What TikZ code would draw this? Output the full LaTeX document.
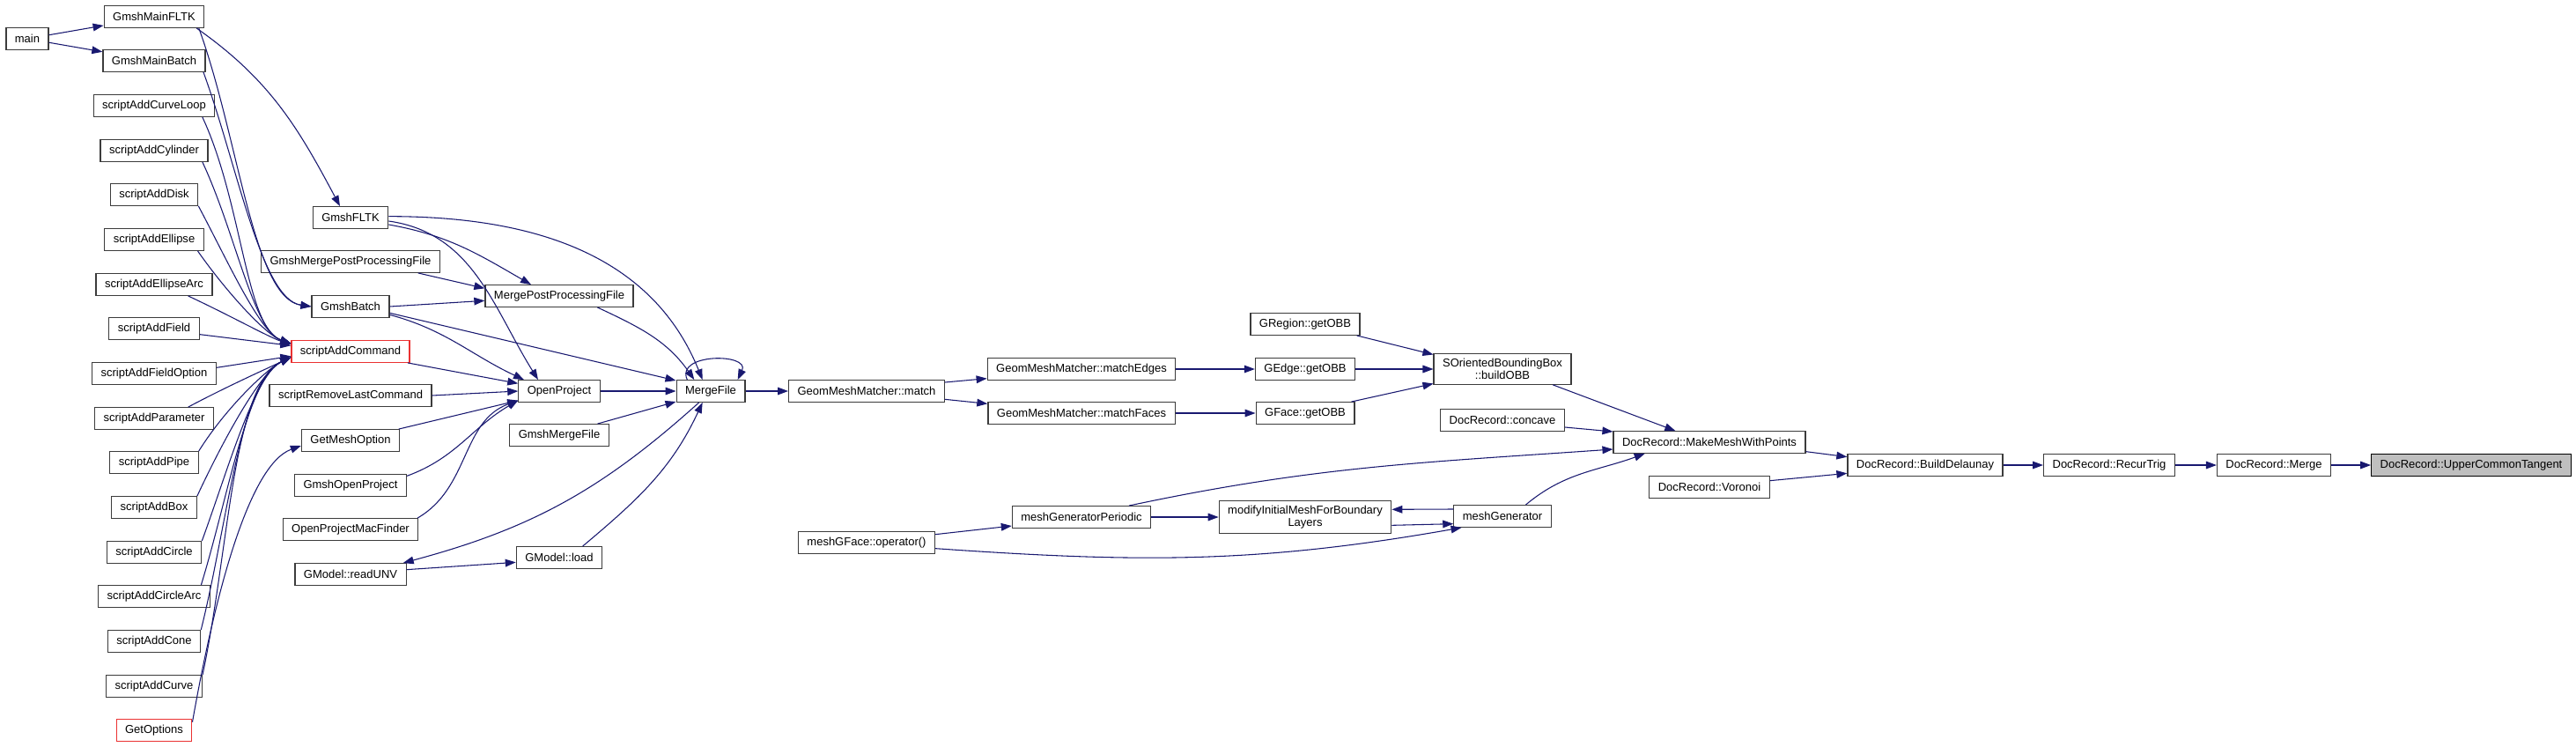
\documentclass[tikz,border=0pt]{standalone}
\usepackage{fontspec}
\setmainfont{Liberation Sans}
\usetikzlibrary{arrows.meta,positioning,calc}
\definecolor{edgeblue}{RGB}{25,25,112}
\definecolor{boxline}{RGB}{60,60,60}
\definecolor{truncred}{RGB}{235,50,50}
\definecolor{rootgray}{RGB}{191,191,191}
\tikzset{
	flow/.style={-{Triangle[length=9pt,width=6.5pt]},line width=0.8pt,draw=edgeblue},
	func/.style={draw=boxline,line width=0.9pt,fill=white,align=center,
		minimum height=18.5pt,inner xsep=7.5pt,inner ysep=4pt,text=black},
	trunc/.style={func,draw=truncred},
	root/.style={func,draw=black,fill=rootgray},
	bundledown/.style={out=-65,in=162,in looseness=0.5},
	bundleup/.style={out=72,in=205,in looseness=0.5},
}

\begin{document}
\begin{tikzpicture}[x=75pt,y=75pt,font=\fontsize{9.75}{10.7}\selectfont]
		\useasboundingbox (0,0) rectangle (29.25,-8.48);
		
		\node[func] (main) at (0.31,-0.44) {main};
		
		\node[func] (mainfltk) at (1.75,-0.19) {GmshMainFLTK};
		\node[func] (mainbatch) at (1.75,-0.69) {GmshMainBatch};
		\node[func] (curveloop) at (1.75,-1.20) {scriptAddCurveLoop};
		\node[func] (cylinder) at (1.75,-1.71) {scriptAddCylinder};
		\node[func] (disk) at (1.75,-2.21) {scriptAddDisk};
		\node[func] (ellipse) at (1.75,-2.72) {scriptAddEllipse};
		\node[func] (ellipsearc) at (1.75,-3.23) {scriptAddEllipseArc};
		\node[func] (field) at (1.75,-3.73) {scriptAddField};
		\node[func] (fieldoption) at (1.75,-4.24) {scriptAddFieldOption};
		\node[func] (parameter) at (1.75,-4.75) {scriptAddParameter};
		\node[func] (pipe) at (1.75,-5.25) {scriptAddPipe};
		\node[func] (addbox) at (1.75,-5.76) {scriptAddBox};
		\node[func] (addcircle) at (1.75,-6.27) {scriptAddCircle};
		\node[func] (circlearc) at (1.75,-6.77) {scriptAddCircleArc};
		\node[func] (cone) at (1.75,-7.28) {scriptAddCone};
		\node[func] (addcurve) at (1.75,-7.79) {scriptAddCurve};
		\node[trunc] (getoptions) at (1.75,-8.29) {GetOptions};
		
		\node[func] (fltk) at (3.98,-2.47) {GmshFLTK};
		\node[func] (mergepostfile) at (3.98,-2.97) {GmshMergePostProcessingFile};
		\node[func] (batch) at (3.98,-3.48) {GmshBatch};
		\node[trunc] (addcommand) at (3.98,-3.99) {scriptAddCommand};
		\node[func] (removecommand) at (3.98,-4.49) {scriptRemoveLastCommand};
		\node[func] (meshoption) at (3.98,-5.00) {GetMeshOption};
		\node[func] (openproj) at (3.98,-5.51) {GmshOpenProject};
		\node[func] (macfinder) at (3.98,-6.01) {OpenProjectMacFinder};
		\node[func] (readunv) at (3.98,-6.52) {GModel::readUNV};
		
		\node[func] (mergepost) at (6.35,-3.36) {MergePostProcessingFile};
		\node[func] (openproject) at (6.35,-4.44) {OpenProject};
		\node[func] (gmshmerge) at (6.35,-4.94) {GmshMergeFile};
		\node[func] (load) at (6.35,-6.33) {GModel::load};
		
		\node[func] (mergefile) at (8.07,-4.44) {MergeFile};
		
		\node[func] (match) at (9.84,-4.44) {GeomMeshMatcher::match};
		\node[func] (gfaceop) at (9.84,-6.16) {meshGFace::operator()};
		
		\node[func] (matchedges) at (12.28,-4.19) {GeomMeshMatcher::matchEdges};
		\node[func] (matchfaces) at (12.28,-4.69) {GeomMeshMatcher::matchFaces};
		\node[func] (periodic) at (12.28,-5.87) {meshGeneratorPeriodic};
		
		\node[func] (regionobb) at (14.82,-3.68) {GRegion::getOBB};
		\node[func] (edgeobb) at (14.82,-4.19) {GEdge::getOBB};
		\node[func] (faceobb) at (14.82,-4.69) {GFace::getOBB};
		\node[func] (modifymesh) at (14.82,-5.87) {modifyInitialMeshForBoundary\\Layers};
		
		\node[func] (buildobb) at (17.06,-4.19) {SOrientedBoundingBox\\::buildOBB};
		\node[func] (concave) at (17.06,-4.77) {DocRecord::concave};
		\node[func] (meshgen) at (17.06,-5.86) {meshGenerator};
		
		\node[func] (makemesh) at (19.41,-5.02) {DocRecord::MakeMeshWithPoints};
		\node[func] (voronoi) at (19.41,-5.53) {DocRecord::Voronoi};
		
		\node[func] (delaunay) at (21.86,-5.28) {DocRecord::BuildDelaunay};
		\node[func] (recurtrig) at (23.95,-5.28) {DocRecord::RecurTrig};
		\node[func] (merge) at (25.82,-5.28) {DocRecord::Merge};
		\node[root] (uppertangent) at (28.06,-5.28) {DocRecord::UpperCommonTangent};
		
		\draw[flow] (main) -- (mainfltk);
		\draw[flow] (main) -- (mainbatch);
		\draw[flow] ([xshift=-7pt]mainfltk.south east) to[out=-35,in=118] ([xshift=-9pt]fltk.north);
		\draw[flow] ([xshift=-5pt]mainfltk.south east) to[out=-70,in=172,in looseness=0.5] (batch.west);
		\draw[flow] ([xshift=-2pt]mainbatch.south east) to[out=-70,in=172,in looseness=0.5] (batch.west);
		
		% scripting helpers all funnel into scriptAddCommand
		\draw[flow] ([xshift=-11pt]curveloop.south east) to[bundledown] ([yshift=7pt]addcommand.west);
		\draw[flow] ([xshift=-5pt]cylinder.south east) to[bundledown] ([yshift=7pt]addcommand.west);
		\draw[flow] (disk.south east) to[bundledown,out=-62] ([yshift=7pt]addcommand.west);
		\draw[flow] ([xshift=-5.5pt]ellipse.south east) to[bundledown,out=-55] ([yshift=7pt]addcommand.west);
		\draw[flow] ([xshift=-21pt]ellipsearc.south east) to[bundledown,out=-25] ([yshift=6pt]addcommand.west);
		\draw[flow] ([yshift=-5pt]field.east) -- ([yshift=5pt]addcommand.west);
		\draw[flow] ([yshift=5pt]fieldoption.east) -- ([yshift=-4pt]addcommand.west);
		\draw[flow] ([xshift=-22pt]parameter.north east) to[bundleup,out=28] ([yshift=-5pt]addcommand.west);
		\draw[flow] (pipe.north east) to[bundleup,out=58] ([yshift=-5pt]addcommand.west);
		\draw[flow] (addbox.north east) to[bundleup,out=65] ([yshift=-5pt]addcommand.west);
		\draw[flow] (addcircle.north east) to[bundleup,out=70] ([yshift=-5pt]addcommand.west);
		\draw[flow] ([xshift=-8pt]circlearc.north east) to[bundleup,out=73] ([yshift=-5pt]addcommand.west);
		\draw[flow] (cone.north east) to[bundleup,out=76] ([yshift=-5pt]addcommand.west);
		\draw[flow] (addcurve.north east) to[bundleup,out=78] ([yshift=-5pt]addcommand.west);
		\draw[flow] ([yshift=7pt]getoptions.east) to[bundleup,out=80,in=200] ([yshift=-4.5pt]meshoption.west);
		
		\draw[flow] ([yshift=1pt]fltk.east) to[out=0,in=112] ([xshift=-7pt]mergefile.north);
		\draw[flow] ([yshift=-6pt]fltk.east) to[out=-10,in=150] ([xshift=-24pt]mergepost.north);
		\draw[flow] ([yshift=-3pt]fltk.east) to[out=-8,in=122] ([xshift=-18pt]openproject.north);
		\draw[flow] ([xshift=-19pt]mergepostfile.south east) -- ([yshift=6.5pt]mergepost.west);
		\draw[flow] (batch.east) -- ([yshift=-4pt]mergepost.west);
		\draw[flow] ([yshift=-5.5pt]batch.east) -- ([yshift=9pt]mergefile.west);
		\draw[flow] ([yshift=-7pt]batch.east) to[out=-15,in=155] ([xshift=-30pt]openproject.north);
		\draw[flow] ([xshift=-2pt]addcommand.south east) -- ([yshift=6.5pt]openproject.west);
		\draw[flow] (removecommand.east) -- (openproject.west);
		\draw[flow] ([xshift=-1pt]meshoption.north east) -- ([yshift=-8pt]openproject.west);
		\draw[flow] ([yshift=8pt]openproj.east) to[out=20,in=210] ([yshift=-8pt]openproject.west);
		\draw[flow] ([xshift=-1pt]macfinder.north east) to[out=30,in=200] ([yshift=-8pt]openproject.west);
		
		\draw[flow] (openproject) -- (mergefile);
		\draw[flow] ([xshift=-10pt]gmshmerge.north east) -- ([yshift=-9pt]mergefile.west);
		\draw[flow] ([xshift=-31pt]mergepost.south east) to[out=-25,in=125] ([xshift=-14pt]mergefile.north);
		\draw[flow] ([xshift=-20pt]mergefile.north) to[out=115,in=65,looseness=1.5] ([xshift=23pt]mergefile.north);
		\draw[flow] ([xshift=-10pt]mergefile.south) to[out=-138,in=15] ([xshift=-3pt]readunv.north east);
		\draw[flow] ([yshift=4pt]readunv.east) -- ([yshift=-4pt]load.west);
		\draw[flow] ([xshift=-17pt]load.north east) to[out=40,in=-115] ([xshift=-7pt]mergefile.south);
		
		\draw[flow] (mergefile) -- (match);
		\draw[flow] ([yshift=7.5pt]match.east) -- ([yshift=-8pt]matchedges.west);
		\draw[flow] ([yshift=-7pt]match.east) -- ([yshift=8pt]matchfaces.west);
		\draw[flow] (matchedges) -- (edgeobb);
		\draw[flow] (matchfaces) -- (faceobb);
		\draw[flow] ([xshift=-3pt]regionobb.south east) -- ([yshift=-1pt]buildobb.north west);
		\draw[flow] (edgeobb) -- (buildobb);
		\draw[flow] ([xshift=-3pt]faceobb.north east) -- ([yshift=1pt]buildobb.south west);
		
		\draw[flow] ([yshift=7pt]gfaceop.east) -- ([yshift=-7.5pt]periodic.west);
		\draw[flow] ([yshift=-5pt]gfaceop.east) to[out=-4,in=190] ([xshift=7pt]meshgen.south west);
		\draw[flow] (periodic) -- (modifymesh);
		\draw[flow] ([xshift=-19pt]periodic.north east) to[out=12,in=184] ([yshift=-6pt]makemesh.west);
		\draw[flow] ([yshift=6pt]meshgen.west) -- ([yshift=6.5pt]modifymesh.east);
		\draw[flow] ([yshift=-7pt]modifymesh.east) -- ([yshift=-6.5pt]meshgen.west);
		
		\draw[flow] ([xshift=-16pt]buildobb.south east) -- ([xshift=-29pt]makemesh.north);
		\draw[flow] ([yshift=-6pt]concave.east) -- ([yshift=9pt]makemesh.west);
		\draw[flow] ([xshift=-22pt]meshgen.north east) to[out=40,in=200] ([xshift=-55pt]makemesh.south);
		
		\draw[flow] ([yshift=-8pt]makemesh.east) -- ([yshift=7pt]delaunay.west);
		\draw[flow] ([yshift=5.5pt]voronoi.east) -- ([yshift=-7pt]delaunay.west);
		\draw[flow] (delaunay) -- (recurtrig);
		\draw[flow] (recurtrig) -- (merge);
		\draw[flow] (merge) -- (uppertangent);
		
	\end{tikzpicture}
\end{document}
